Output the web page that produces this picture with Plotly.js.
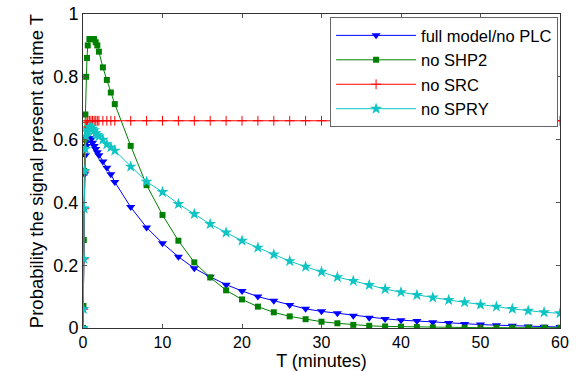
<!DOCTYPE html>
<html>
<head>
<meta charset="utf-8">
<script src="https://cdn.plot.ly/plotly-3.0.1.min.js"></script>
<style>html,body{margin:0;padding:0;background:#fff;}#chart{width:583px;height:371px;}</style>
</head>
<body>
<div id="chart"></div>
<script>
// time points (minutes)
var times = [0, 0.05, 0.1, 0.15, 0.2, 0.3, 0.4, 0.5, 0.6, 0.8, 1.0, 1.2, 1.4, 1.6, 1.8, 2.0, 2.5, 3.0, 3.5, 4,
  6, 8, 10, 12, 14, 16, 18, 20, 22, 24, 26, 28, 30, 32, 34, 36, 38, 40, 42, 44, 46, 48, 50, 52, 54, 56, 58, 60];

var fullModel = [0, 0.06, 0.22, 0.38, 0.49, 0.55, 0.58, 0.595, 0.60, 0.605, 0.60, 0.59, 0.58, 0.57, 0.56, 0.55, 0.53, 0.51, 0.49, 0.465,
  0.385, 0.32, 0.27, 0.227, 0.19, 0.163, 0.138, 0.118, 0.10, 0.087, 0.073, 0.061, 0.053, 0.047, 0.039, 0.033, 0.029, 0.025, 0.022, 0.018, 0.016, 0.013, 0.011, 0.009, 0.007, 0.005, 0.004, 0.003];

var noSHP2 = [0, 0.07, 0.28, 0.50, 0.60, 0.68, 0.80, 0.86, 0.90, 0.92, 0.92, 0.92, 0.92, 0.91, 0.90, 0.88, 0.83, 0.79, 0.75, 0.713,
  0.58, 0.455, 0.36, 0.278, 0.209, 0.161, 0.12, 0.091, 0.068, 0.05, 0.037, 0.028, 0.02, 0.015, 0.01, 0.007, 0.005, 0.004, 0.003, 0.002, 0.002, 0.001, 0.001, 0.001, 0.001, 0.001, 0.001, 0.001];

var noSRC = [0, 0.06, 0.22, 0.38, 0.50, 0.60, 0.64, 0.655, 0.66, 0.66, 0.66, 0.66, 0.66, 0.66, 0.66, 0.66, 0.66, 0.66, 0.66, 0.66,
  0.66, 0.66, 0.66, 0.66, 0.66, 0.66, 0.66, 0.66, 0.66, 0.66, 0.66, 0.66, 0.66, 0.66, 0.66, 0.66, 0.66, 0.66, 0.66, 0.66, 0.66, 0.66, 0.66, 0.66, 0.66, 0.66, 0.66, 0.66];

var noSPRY = [0, 0.06, 0.22, 0.38, 0.50, 0.57, 0.61, 0.625, 0.63, 0.64, 0.64, 0.635, 0.63, 0.62, 0.615, 0.61, 0.60, 0.585, 0.575, 0.565,
  0.514, 0.466, 0.433, 0.395, 0.363, 0.331, 0.304, 0.278, 0.256, 0.234, 0.213, 0.195, 0.179, 0.162, 0.15, 0.137, 0.124, 0.114, 0.105, 0.097, 0.089, 0.082, 0.074, 0.068, 0.061, 0.055, 0.05, 0.047];

var seriesNames = ['full model/no PLC', 'no SHP2', 'no SRC', 'no SPRY'];
var xTicks = [0, 10, 20, 30, 40, 50, 60];
var yTicks = [0, 0.2, 0.4, 0.6, 0.8, 1];
var yTickText = ['0', '0.2', '0.4', '0.6', '0.8', '1'];

var traces = [
  {x: times, y: fullModel, name: seriesNames[0], mode: 'lines+markers',
   line: {color: '#0000ff', width: 1}, marker: {symbol: 'triangle-down', size: 8, color: '#0000ff'}},
  {x: times, y: noSHP2, name: seriesNames[1], mode: 'lines+markers',
   line: {color: '#008000', width: 1}, marker: {symbol: 'square', size: 6, color: '#008000'}},
  {x: times, y: noSRC, name: seriesNames[2], mode: 'lines+markers',
   line: {color: '#ff0000', width: 1}, marker: {symbol: 'cross-thin', size: 7, color: '#ff0000', line: {color: '#ff0000', width: 1}}},
  {x: times, y: noSPRY, name: seriesNames[3], mode: 'lines+markers',
   line: {color: '#10c4c4', width: 1}, marker: {symbol: 'star', size: 9, color: '#10c4c4'}}
];

var fontFam = '"Liberation Sans", Arial, Helvetica, sans-serif';
var layout = {
  width: 583, height: 371,
  margin: {l: 83, r: 23, t: 14, b: 43},
  paper_bgcolor: '#fff', plot_bgcolor: '#fff',
  font: {family: fontFam, size: 14, color: '#000'},
  showlegend: true,
  legend: {x: 0.996, y: 0.99, xanchor: 'right', yanchor: 'top', bgcolor: '#fff',
           bordercolor: '#666', borderwidth: 1, font: {family: fontFam, size: 16.5, color: '#000'},
           tracegroupgap: 0, itemwidth: 80},
  xaxis: {range: [0, 60], tickvals: xTicks, ticks: 'inside', ticklen: 4, tickcolor: '#555',
          showgrid: false, zeroline: false, showline: true, linecolor: '#333', linewidth: 1, mirror: 'ticks',
          tickfont: {size: 16}, title: {text: 'T (minutes)', font: {size: 18}, standoff: 2}},
  yaxis: {range: [0, 1], tickvals: yTicks, ticktext: yTickText, ticks: 'inside', ticklen: 4, tickcolor: '#555',
          showgrid: false, zeroline: false, showline: true, linecolor: '#333', linewidth: 1, mirror: 'ticks',
          tickfont: {size: 18}, title: {text: 'Probability the signal present at time T', font: {size: 18.5}, standoff: 4}}
};

Plotly.newPlot('chart', traces, layout, {displayModeBar: false, staticPlot: true});
</script>
</body>
</html>
